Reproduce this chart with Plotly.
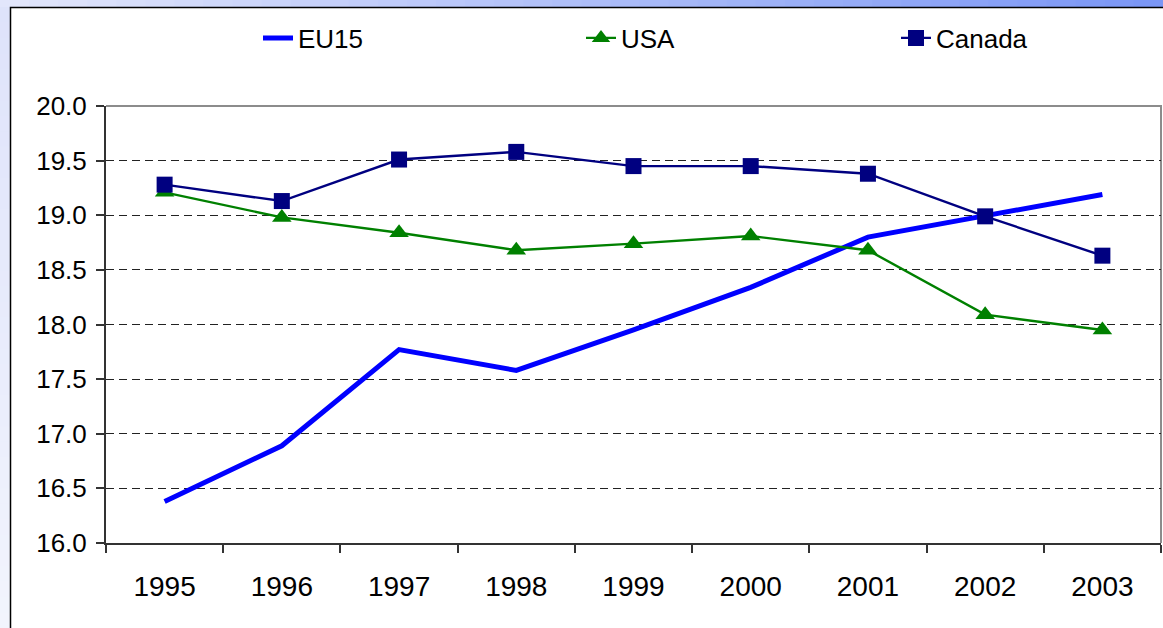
import plotly.graph_objects as go

years = ["1995", "1996", "1997", "1998", "1999", "2000", "2001", "2002", "2003"]
eu15 = [16.38, 16.89, 17.77, 17.58, 17.95, 18.34, 18.80, 18.99, 19.19]
usa = [19.21, 18.98, 18.84, 18.68, 18.74, 18.81, 18.68, 18.09, 17.95]
canada = [19.28, 19.13, 19.51, 19.58, 19.45, 19.45, 19.38, 18.99, 18.63]

W, H = 1163, 628
L, R, T, B = 106, 2, 106, 85
PW, PH = W - L - R, H - T - B


def px(x):
    return (x - L) / PW


def py(y):
    return (H - B - y) / PH


def mix(c1, c2, t):
    return "rgb(%d,%d,%d)" % tuple(round(a + (b - a) * t) for a, b in zip(c1, c2))


FONT = "Arial, 'Liberation Sans', sans-serif"

fig = go.Figure()
fig.add_trace(go.Scatter(x=years, y=eu15, name="EU15", mode="lines",
                         line=dict(color="#0000FF", width=5), legendwidth=278))
fig.add_trace(go.Scatter(x=years, y=usa, name="USA", mode="lines+markers",
                         line=dict(color="#008000", width=2.4),
                         marker=dict(symbol="triangle-up", size=17, color="#008000"),
                         legendwidth=270))
fig.add_trace(go.Scatter(x=years, y=canada, name="Canada", mode="lines+markers",
                         line=dict(color="#000080", width=2.4),
                         marker=dict(symbol="square", size=16, color="#000080"),
                         legendwidth=150))

shapes = []
# top gradient strip
n = 40
cl, cr = (226, 230, 251), (122, 150, 245)
for i in range(n):
    x0 = W * i / n
    x1 = W * (i + 1) / n + 1
    shapes.append(dict(type="rect", xref="paper", yref="paper", x0=px(x0), x1=px(x1),
                       y0=py(7), y1=py(0), fillcolor=mix(cl, cr, i / (n - 1)),
                       line=dict(width=0), layer="below"))
# left gradient strip
ct, cb = (222, 227, 250), (242, 244, 253)
for i in range(n):
    y0 = 7 + (H - 7) * i / n
    y1 = 7 + (H - 7) * (i + 1) / n + 1
    shapes.append(dict(type="rect", xref="paper", yref="paper", x0=px(0), x1=px(10),
                       y0=py(y1), y1=py(y0), fillcolor=mix(ct, cb, i / (n - 1)),
                       line=dict(width=0), layer="below"))
# chart box border
shapes.append(dict(type="path", xref="paper", yref="paper",
                   path="M %f,%f L %f,%f L %f,%f" % (px(10.5), py(H + 2), px(10.5), py(7.5), px(W + 2), py(7.5)),
                   line=dict(color="black", width=1.5), layer="above"))
# plot-area top/right gray border
shapes.append(dict(type="path", xref="paper", yref="paper",
                   path="M 0,1 L 1,1 L 1,0",
                   line=dict(color="#8c8c8c", width=2), layer="below"))

fig.update_layout(
    width=W, height=H,
    margin=dict(l=L, r=R, t=T, b=B),
    paper_bgcolor="white", plot_bgcolor="white",
    font=dict(family=FONT, color="black"),
    shapes=shapes,
    showlegend=True,
    legend=dict(orientation="h", x=px(258), xanchor="left", y=py(38), yanchor="middle",
                font=dict(size=26, family=FONT), bgcolor="rgba(0,0,0,0)",
                entrywidthmode="pixels", traceorder="normal", itemsizing="trace"),
    xaxis=dict(type="category", range=[-0.5, 8.5], tickson="boundaries",
               ticks="outside", ticklen=8, tickwidth=1.5, tickcolor="#333333",
               showline=True, linecolor="#333333", linewidth=2,
               showgrid=False, zeroline=False,
               tickfont=dict(size=28, family=FONT), ticklabelstandoff=17,
               fixedrange=True),
    yaxis=dict(range=[16, 20], dtick=0.5, tick0=16, tickformat=".1f",
               ticks="outside", ticklen=8, tickwidth=1.5, tickcolor="#333333",
               showline=True, linecolor="#333333", linewidth=2,
               showgrid=True, gridcolor="#222222", gridwidth=1, griddash="8px,5px",
               zeroline=False, tickfont=dict(size=26, family=FONT),
               ticklabelstandoff=4, fixedrange=True),
)

fig.write_html("out.html", config={"displayModeBar": False},
               post_script="document.body.style.margin='0';document.body.style.overflow='hidden';")
